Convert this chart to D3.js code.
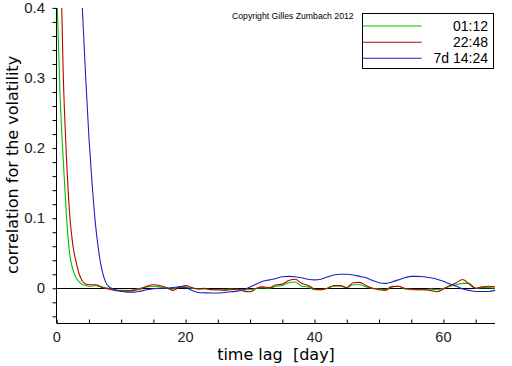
<!DOCTYPE html>
<html><head><meta charset="utf-8">
<script src="https://cdn.jsdelivr.net/npm/d3@7"></script>
<style>body{margin:0;background:#fff}svg{display:block}</style>
</head><body>
<svg id="c" width="512" height="366"></svg>
<script>
const lags = [0,0.5,1,1.5,2,2.5,3,3.5,4,4.5,5,5.5,6,6.5,7,7.5,8,
  9,10,11,12,13,14,15,16,17,18,19,20,21,22,23,24,25,26,27,28,29,30,31,32,33,34,35,36,37,38,
  39,40,41,42,43,44,45,46,47,48,49,50,51,52,53,54,55,56,57,58,59,60,61,62,63,64,65,66,67,68];
const green = [0.43,0.28,0.185,0.105,0.05,0.027,0.015,0.009,0.005,0.004,0.003,0.003,0.004,0.003,0.002,0.001,0.000,
  -0.002,-0.003,-0.003,-0.002,0.000,0.002,0.003,0.002,0.000,-0.001,
  0.002,0.002,0.000,-0.001,-0.001,-0.002,-0.002,-0.002,-0.001,-0.002,
  -0.002,-0.002,0.000,0.001,0.000,0.003,0.004,0.008,0.009,0.003,
  0.002,-0.002,-0.002,0.000,0.003,0.003,0.001,0.005,0.005,0.002,
  0.000,-0.001,-0.002,0.003,0.003,-0.001,-0.002,-0.002,-0.002,-0.001,
  -0.002,0.000,0.003,0.005,0.007,0.007,0.000,0.001,0.001,0.000];
const red = [0.75,0.52,0.31,0.19,0.107,0.062,0.038,0.02,0.01,0.006,0.005,0.005,0.005,0.004,0.001,0.000,-0.001,
  -0.003,-0.004,-0.004,-0.003,-0.001,0.003,0.005,0.004,0.001,-0.003,
  0.001,0.004,0.001,-0.001,0.000,-0.002,-0.002,-0.003,-0.002,-0.001,
  -0.004,-0.005,0.000,0.002,0.001,0.005,0.006,0.011,0.013,0.007,
  0.004,-0.001,-0.002,0.000,0.004,0.004,0.001,0.008,0.0085,0.004,
  0.000,-0.002,-0.003,0.002,0.003,0.000,-0.001,-0.002,-0.002,-0.003,
  -0.005,-0.001,0.004,0.008,0.0125,0.006,0.000,0.002,0.003,0.002];
const blue = [1.0,1.0,0.98,0.95,0.9,0.8,0.65,0.5,0.395,0.3,0.215,0.148,0.093,0.054,0.027,0.011,0.003,
  -0.002,-0.004,-0.0055,-0.0055,-0.004,-0.002,-0.0005,0.000,0.000,0.001,
  0.002,0.001,-0.003,-0.006,-0.0065,-0.0068,-0.0068,-0.006,-0.005,-0.004,
  -0.002,0.002,0.006,0.010,0.012,0.014,0.0165,0.017,0.0165,0.015,
  0.013,0.012,0.013,0.016,0.019,0.020,0.020,0.019,0.017,0.015,
  0.011,0.008,0.007,0.009,0.012,0.015,0.017,0.017,0.0165,0.015,
  0.013,0.010,0.006,0.003,-0.001,-0.003,-0.0045,-0.0045,-0.0045,-0.003];
const seriesNames = ["01:12","22:48","7d 14:24"];
const seriesColors = ["#00c000","#c00000","#2020c0"];
const xTickLabels = [0,20,40,60];
const yTickLabels = [0,0.1,0.2,0.3,0.4];
const copyright = "Copyright Gilles Zumbach 2012";

const svg = d3.select("#c");
const x = d3.scaleLinear().domain([0,68]).range([56.7,495]);
const y = d3.scaleLinear().domain([-0.05,0.4]).range([323.35,7.9]);

svg.append("defs").append("clipPath").attr("id","clip")
  .append("rect").attr("x",x(0)).attr("y",y(0.4)).attr("width",x(68)-x(0)).attr("height",y(-0.05)-y(0.4));

// zero line
svg.append("line").attr("x1",x(0)).attr("x2",x(68)).attr("y1",Math.round(y(0))+0.5).attr("y2",Math.round(y(0))+0.5)
  .attr("stroke","#000").attr("stroke-width",1);

const all = [green,red,blue];
const line = d3.line().x((d,i)=>x(lags[i])).y(d=>y(d)).curve(d3.curveMonotoneX);
const g = svg.append("g").attr("clip-path","url(#clip)");
all.forEach((s,k)=>{
  g.append("path").attr("d",line(s)).attr("fill","none").attr("stroke",seriesColors[k]).attr("stroke-width",1.1);
});

// axes
const xAxis = d3.axisBottom(x).tickValues(d3.range(0,68,5)).tickSize(-4).tickFormat(()=> "");
const ax = svg.append("g").attr("transform",`translate(0,${Math.round(y(-0.05))+0.5})`).call(xAxis);
ax.select(".domain").attr("d",`M${x(0)},0H${x(68)}`);
ax.selectAll("line").attr("stroke","#000");
svg.append("g").selectAll("text").data(xTickLabels).join("text")
  .attr("x",d=>x(d)).attr("y",342).attr("text-anchor","middle")
  .attr("font-family","Liberation Sans, Arial, sans-serif").attr("font-size",14.5).attr("fill","#222")
  .text(d=>d);

const yAxis = d3.axisLeft(y).tickValues(d3.range(-0.04,0.4001,0.02)).tickSize(4).tickFormat(()=> "");
const ay = svg.append("g").attr("transform",`translate(${Math.round(x(0))-0.5},0)`).call(yAxis);
ay.select(".domain").attr("d",`M0,${y(0.4)}V${y(-0.05)}`);
ay.selectAll("line").attr("stroke","#000");
svg.append("g").selectAll("text").data(yTickLabels).join("text")
  .attr("x",45).attr("y",d=>y(d)+5).attr("text-anchor","end")
  .attr("font-family","Liberation Sans, Arial, sans-serif").attr("font-size",15).attr("fill","#222")
  .text(d=>d===0?"0":d3.format(".1f")(d));

// axis titles
svg.append("text").attr("x",276).attr("y",360).attr("text-anchor","middle")
  .attr("font-family","DejaVu Sans, sans-serif").attr("font-size",16).attr("fill","#000")
  .attr("xml:space","preserve").style("white-space","pre").text("time lag  [day]");
svg.append("text").attr("transform","translate(18,165) rotate(-90)").attr("text-anchor","middle")
  .attr("font-family","DejaVu Sans, sans-serif").attr("font-size",16).attr("fill","#000")
  .text("correlation for the volatility");

// copyright
svg.append("text").attr("x",232).attr("y",18.5)
  .attr("font-family","Liberation Sans, Arial, sans-serif").attr("font-size",8.7).attr("fill","#000")
  .text(copyright);

// legend
const lg = svg.append("g");
lg.append("rect").attr("x",362.5).attr("y",13.5).attr("width",131).attr("height",55)
  .attr("fill","#fff").attr("stroke","#000").attr("stroke-width",1);
const rowY = [26,42.3,58.3];
seriesNames.forEach((n,k)=>{
  lg.append("line").attr("x1",363).attr("x2",421.7).attr("y1",rowY[k]).attr("y2",rowY[k])
    .attr("stroke",seriesColors[k]).attr("stroke-width",1.1);
  lg.append("text").attr("x",488).attr("y",rowY[k]+4.8).attr("text-anchor","end")
    .attr("font-family","Liberation Sans, Arial, sans-serif").attr("font-size",14).attr("fill","#000")
    .text(n);
});
</script>
</body></html>
